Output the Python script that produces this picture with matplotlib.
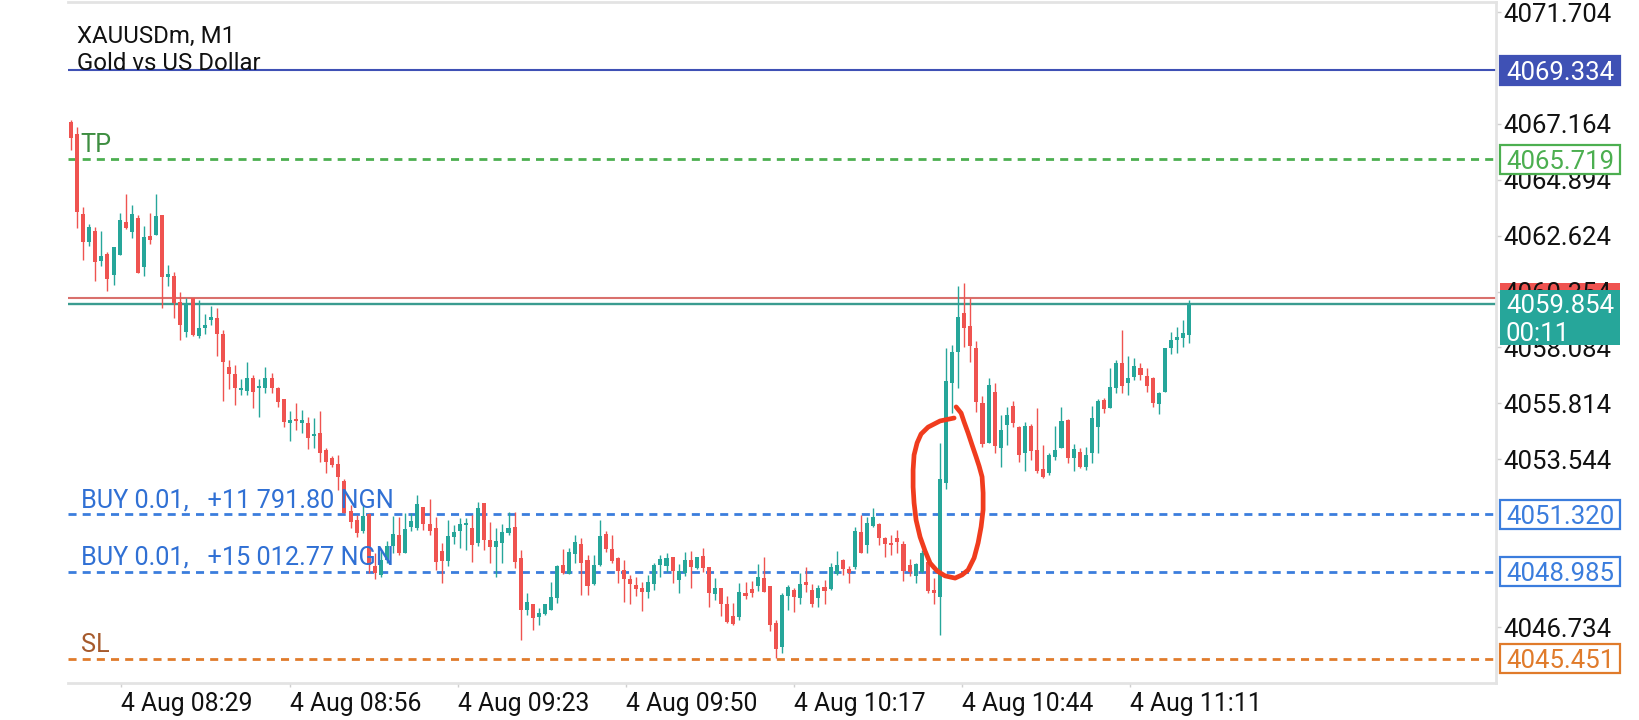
import matplotlib
matplotlib.use("Agg")
import numpy as np
import matplotlib.pyplot as plt
import matplotlib.transforms as mtransforms
from matplotlib.patches import Rectangle

plt.rcParams['font.family'] = ['Roboto', 'DejaVu Sans']

# chart header
symbol = "XAUUSDm, M1"
description = "Gold vs US Dollar"

# M1 candles
opens = [
    4067.24, 4066.75, 4063.50, 4062.36, 4062.81, 4061.59, 4061.88, 4061.02, 4061.84, 4063.18,
    4062.77, 4063.34, 4061.35, 4062.61, 4062.65, 4063.46, 4060.94, 4060.98, 4059.93, 4058.71,
    4060.09, 4058.55, 4058.87, 4059.20, 4059.28, 4058.63, 4057.29, 4057.01, 4056.36, 4056.32,
    4056.84, 4056.44, 4056.44, 4056.84, 4056.44, 4055.99, 4055.02, 4055.14, 4055.02, 4055.02,
    4054.49, 4054.61, 4053.92, 4053.60, 4053.35, 4052.66, 4051.44, 4051.08, 4050.63, 4051.32,
    4049.21, 4048.84, 4049.45, 4050.02, 4050.47, 4049.74, 4050.79, 4050.75, 4051.61, 4050.92,
    4050.75, 4049.82, 4049.41, 4050.39, 4050.63, 4050.87, 4050.75, 4050.15, 4051.77, 4050.27,
    4049.98, 4050.15, 4050.55, 4050.79, 4049.53, 4047.42, 4047.67, 4047.14, 4047.26, 4047.42,
    4047.90, 4049.25, 4048.89, 4049.70, 4050.10, 4049.45, 4048.48, 4049.25, 4050.51, 4049.90,
    4049.53, 4049.05, 4048.68, 4048.44, 4048.32, 4048.15, 4048.48, 4049.25, 4049.21, 4049.57,
    4048.64, 4048.93, 4049.45, 4049.13, 4049.62, 4049.17, 4048.07, 4048.32, 4047.67, 4047.18,
    4047.14, 4048.11, 4048.28, 4048.40, 4048.72, 4048.40, 4046.90, 4045.92, 4047.99, 4048.24,
    4047.90, 4048.56, 4048.24, 4047.90, 4048.36, 4048.28, 4048.89, 4049.45, 4049.09, 4049.17,
    4050.59, 4050.06, 4050.83, 4050.92, 4050.35, 4050.15, 4050.35, 4050.10, 4049.25, 4048.80,
    4048.97, 4049.37, 4048.24, 4047.94, 4052.58, 4056.64, 4057.90, 4059.48, 4058.95, 4058.06,
    4055.83, 4054.20, 4056.27, 4054.00, 4054.94, 4055.71, 4054.85, 4053.80, 4054.89, 4053.92,
    4053.15, 4052.99, 4053.64, 4054.00, 4055.14, 4053.60, 4053.84, 4053.23, 4053.80, 4054.85,
    4055.95, 4055.63, 4056.44, 4057.45, 4056.64, 4056.88, 4057.25, 4056.92, 4056.84, 4055.79,
    4056.27, 4058.06, 4058.39, 4058.47, 4058.59,
]
closes = [
    4066.59, 4063.58, 4062.36, 4062.97, 4061.55, 4061.80, 4060.86, 4062.16, 4063.26, 4062.93,
    4063.50, 4061.11, 4062.57, 4062.45, 4063.42, 4060.94, 4061.07, 4059.89, 4058.99, 4059.85,
    4058.59, 4058.87, 4058.99, 4059.32, 4058.63, 4057.49, 4057.01, 4056.44, 4056.44, 4056.84,
    4056.27, 4056.52, 4056.84, 4056.44, 4055.87, 4055.06, 4055.14, 4055.10, 4055.14, 4054.41,
    4054.53, 4053.80, 4053.43, 4053.31, 4052.82, 4051.36, 4051.00, 4050.55, 4051.24, 4049.25,
    4048.93, 4049.45, 4050.02, 4050.51, 4049.74, 4050.71, 4051.04, 4051.73, 4050.92, 4050.63,
    4049.37, 4049.41, 4050.43, 4050.59, 4050.92, 4050.96, 4050.06, 4051.57, 4050.27, 4049.98,
    4050.23, 4050.59, 4050.75, 4049.37, 4047.42, 4047.75, 4047.10, 4047.30, 4047.67, 4047.94,
    4049.21, 4048.93, 4049.78, 4050.19, 4049.33, 4048.40, 4049.25, 4050.43, 4049.90, 4049.41,
    4049.01, 4048.68, 4048.48, 4048.28, 4048.15, 4048.56, 4049.25, 4049.49, 4049.53, 4049.01,
    4049.01, 4049.45, 4049.17, 4049.57, 4049.13, 4048.11, 4048.32, 4047.67, 4046.94, 4046.86,
    4048.15, 4047.99, 4048.11, 4048.76, 4048.15, 4046.82, 4045.84, 4048.03, 4048.36, 4047.94,
    4048.48, 4048.44, 4047.67, 4048.32, 4048.19, 4049.17, 4049.25, 4049.09, 4048.93, 4050.63,
    4049.74, 4050.96, 4051.20, 4050.35, 4050.10, 4050.06, 4050.19, 4049.01, 4048.97, 4049.29,
    4049.74, 4048.19, 4048.11, 4052.74, 4056.72, 4057.90, 4059.32, 4058.87, 4058.14, 4055.87,
    4054.16, 4056.56, 4054.08, 4054.73, 4055.34, 4055.02, 4053.72, 4054.89, 4053.88, 4053.07,
    4052.82, 4053.72, 4053.92, 4055.10, 4053.60, 4053.96, 4053.23, 4053.72, 4055.22, 4055.91,
    4055.58, 4056.48, 4057.45, 4056.52, 4056.84, 4057.33, 4056.96, 4056.52, 4055.83, 4056.23,
    4058.06, 4058.39, 4058.51, 4058.67, 4059.854,
]
highs = [
    4067.32, 4067.03, 4063.79, 4063.10, 4062.97, 4062.81, 4061.96, 4062.16, 4063.54, 4064.31,
    4063.87, 4063.46, 4063.01, 4063.54, 4064.31, 4063.46, 4061.43, 4061.15, 4060.33, 4060.09,
    4060.09, 4060.01, 4059.44, 4059.77, 4059.69, 4058.79, 4057.57, 4057.37, 4056.80, 4057.49,
    4056.96, 4056.80, 4057.29, 4057.05, 4056.48, 4055.99, 4055.50, 4055.83, 4055.54, 4055.26,
    4055.22, 4055.50, 4054.00, 4053.68, 4053.72, 4052.74, 4051.69, 4051.28, 4051.69, 4051.36,
    4049.74, 4049.86, 4050.23, 4051.24, 4051.20, 4051.36, 4051.36, 4052.09, 4051.61, 4051.93,
    4051.20, 4050.15, 4051.08, 4050.87, 4051.16, 4051.16, 4051.28, 4051.81, 4051.77, 4051.00,
    4050.75, 4050.92, 4051.40, 4051.40, 4049.86, 4048.11, 4047.67, 4047.51, 4047.67, 4048.56,
    4049.25, 4049.90, 4049.94, 4050.47, 4050.35, 4049.66, 4049.66, 4051.08, 4050.63, 4050.47,
    4049.57, 4049.45, 4048.84, 4048.76, 4048.56, 4048.84, 4049.33, 4049.66, 4049.74, 4049.57,
    4049.29, 4049.78, 4049.82, 4049.57, 4049.94, 4049.17, 4048.72, 4048.32, 4047.99, 4047.71,
    4048.52, 4048.56, 4048.60, 4049.29, 4049.57, 4048.40, 4047.02, 4048.11, 4048.44, 4048.32,
    4048.93, 4049.17, 4048.48, 4048.44, 4048.64, 4049.33, 4049.82, 4049.49, 4049.21, 4050.79,
    4051.28, 4051.20, 4051.57, 4050.96, 4050.39, 4050.47, 4050.67, 4050.23, 4049.49, 4049.33,
    4049.86, 4049.45, 4048.72, 4054.20, 4058.06, 4058.18, 4060.58, 4060.70, 4060.09, 4058.35,
    4056.11, 4056.84, 4056.64, 4055.34, 4055.67, 4055.91, 4054.89, 4055.06, 4054.98, 4055.63,
    4054.12, 4053.80, 4054.89, 4055.67, 4055.18, 4054.16, 4054.00, 4054.04, 4055.71, 4055.99,
    4056.03, 4057.25, 4057.57, 4058.79, 4057.74, 4057.65, 4057.45, 4057.25, 4056.88, 4056.27,
    4058.06, 4058.71, 4058.91, 4059.20, 4060.01,
]
lows = [
    4066.10, 4062.93, 4061.63, 4062.20, 4060.78, 4061.39, 4060.38, 4060.62, 4061.84, 4062.89,
    4062.53, 4061.11, 4060.98, 4062.28, 4062.65, 4059.69, 4060.58, 4059.28, 4058.39, 4058.51,
    4058.55, 4058.47, 4058.63, 4058.99, 4057.74, 4055.91, 4056.40, 4055.75, 4056.15, 4056.15,
    4055.63, 4055.26, 4056.23, 4056.23, 4055.67, 4054.85, 4054.28, 4054.73, 4054.61, 4053.96,
    4054.00, 4053.43, 4052.99, 4053.23, 4052.30, 4051.36, 4050.75, 4050.39, 4050.55, 4048.93,
    4048.68, 4048.76, 4049.33, 4049.74, 4049.66, 4049.74, 4050.63, 4050.67, 4050.67, 4050.47,
    4049.05, 4048.51, 4049.21, 4050.10, 4049.94, 4049.86, 4049.37, 4050.02, 4049.86, 4049.33,
    4048.76, 4049.33, 4050.47, 4049.13, 4046.21, 4047.22, 4046.61, 4046.80, 4047.22, 4047.42,
    4047.71, 4048.89, 4048.89, 4049.33, 4048.03, 4048.03, 4048.44, 4049.21, 4049.78, 4049.33,
    4048.51, 4047.75, 4047.67, 4047.99, 4047.38, 4047.90, 4048.24, 4048.76, 4048.97, 4048.51,
    4048.11, 4048.80, 4048.32, 4049.09, 4048.97, 4047.55, 4047.83, 4047.18, 4046.90, 4046.82,
    4047.02, 4047.87, 4047.94, 4048.19, 4048.15, 4046.58, 4045.48, 4045.68, 4047.42, 4047.34,
    4047.67, 4048.15, 4047.55, 4047.55, 4047.67, 4048.24, 4048.84, 4048.84, 4048.51, 4049.09,
    4049.74, 4049.74, 4050.79, 4050.06, 4049.57, 4049.66, 4049.74, 4048.60, 4048.80, 4048.52,
    4048.93, 4048.11, 4047.67, 4046.41, 4052.34, 4055.42, 4056.44, 4058.10, 4057.49, 4055.46,
    4054.04, 4054.20, 4053.80, 4053.23, 4054.12, 4054.85, 4053.43, 4053.07, 4053.52, 4052.99,
    4052.78, 4052.91, 4053.52, 4054.00, 4053.39, 4053.07, 4053.19, 4053.11, 4053.39, 4053.80,
    4055.42, 4055.63, 4056.23, 4056.23, 4056.15, 4056.76, 4056.76, 4056.27, 4055.67, 4055.38,
    4056.27, 4057.82, 4057.86, 4058.10, 4058.26,
]

# time axis (bar positions of the labels)
time_ticks = [8.2, 36.0, 63.7, 91.3, 119.0, 146.6, 174.3]
time_labels = ["4 Aug 08:29", "4 Aug 08:56", "4 Aug 09:23", "4 Aug 09:50",
               "4 Aug 10:17", "4 Aug 10:44", "4 Aug 11:11"]

# price scale
price_ticks = [4071.704, 4067.164, 4064.894, 4062.624, 4060.354, 4058.084,
               4055.814, 4053.544, 4046.734]

# levels
day_high = 4069.334
tp_price = 4065.719
ask_price = 4060.092
bid_price = 4059.854
buy_prices = [4051.320, 4048.985]
buy_texts = ["BUY 0.01,   +11 791.80 NGN", "BUY 0.01,   +15 012.77 NGN"]
sl_price = 4045.451
bar_timer = "00:11"

# hand drawn red circle (bar index, price)
circle_x = [145.33, 143.02, 141.05, 139.89, 139.24, 138.74, 138.58, 138.58, 138.74, 139.07,
            139.73, 140.55, 141.38, 142.53, 143.84, 145.49, 146.64, 147.63, 148.62, 149.28,
            149.77, 150.10, 150.10, 149.93, 149.44, 148.95, 148.29, 147.63, 146.97, 146.48,
            145.66]
circle_y = [4055.22, 4055.10, 4054.85, 4054.57, 4054.21, 4053.72, 4053.11, 4052.42, 4051.77,
            4051.08, 4050.39, 4049.82, 4049.33, 4049.01, 4048.81, 4048.72, 4048.85, 4049.05,
            4049.54, 4050.15, 4050.80, 4051.49, 4052.18, 4052.83, 4053.27, 4053.64, 4054.12,
            4054.61, 4055.06, 4055.42, 4055.67]

bull = "#26A69A"
bear = "#EF5350"

fig = plt.figure(figsize=(16.4, 7.2), dpi=100)
ax = fig.add_axes([0.04146, 0.05139, 0.87073, 0.94583])

o = np.array(opens)
c = np.array(closes)
h = np.array(highs)
l = np.array(lows)
x = np.arange(len(o))
cols = np.where(c >= o, bull, bear)

ax.vlines(x, l, h, colors=cols, lw=1.0, zorder=3)
ax.bar(x, np.maximum(np.abs(c - o), 0.07), width=0.66, bottom=np.minimum(o, c),
       color=cols, linewidth=0, zorder=3)

dash = (0, (2.9, 2.2))
ax.axhline(day_high, color="#3F51B5", lw=1.5, zorder=2)
ax.axhline(tp_price, color="#4CAF50", lw=2.0, ls=dash, zorder=2)
ax.axhline(ask_price, color="#D9706C", lw=1.5, zorder=2)
ax.axhline(bid_price, color="#3A9C90", lw=1.7, zorder=2)
for p in buy_prices:
    ax.axhline(p, color="#3B7DDD", lw=2.0, ls=dash, zorder=2)
ax.axhline(sl_price, color="#E07B2B", lw=2.0, ls=dash, zorder=2)

ax.set_xlim(-0.49, 234.5)
ax.set_ylim(4044.461, 4072.110)

blend = mtransforms.blended_transform_factory(ax.transAxes, ax.transData)

# level captions
def caption(value, text, color):
    ax.annotate(text, xy=(0.0088, value), xycoords=blend, xytext=(0, 5),
                textcoords="offset points", ha="left", va="baseline",
                color=color, fontsize=18.2, zorder=4)

caption(tp_price, "TP", "#3E8E41")
for p, t in zip(buy_prices, buy_texts):
    caption(p, t, "#3070D4")
caption(sl_price, "SL", "#A65A2C")

# price boxes on the right scale
bh = 1.18
bx, bw, tx = 1.0028, 0.0840, 1.0070
label_size = 18.5

def price_box(value, text, face, edge, tcolor, z=6):
    ax.add_patch(Rectangle((bx, value - bh / 2), bw, bh, transform=blend,
                           facecolor=face, edgecolor=edge, lw=1.6,
                           clip_on=False, zorder=z))
    ax.text(tx, value, text, transform=blend, ha="left", va="center_baseline",
            color=tcolor, fontsize=label_size, clip_on=False, zorder=z + 1)

price_box(day_high, f"{day_high:.3f}", "#3F51B5", "#3F51B5", "white")
price_box(tp_price, f"{tp_price:.3f}", "white", "#4CAF50", "#4CAF50")
for p in buy_prices:
    price_box(p, f"{p:.3f}", "white", "#3B7DDD", "#3B7DDD")
price_box(sl_price, f"{sl_price:.3f}", "white", "#E07B2B", "#E07B2B")

# ask box mostly hidden under the bid box
ax.add_patch(Rectangle((bx, ask_price - bh / 2), bw, bh, transform=blend,
                       facecolor=bear, edgecolor=bear, lw=0, clip_on=False, zorder=1))
ax.add_patch(Rectangle((bx, bid_price - 1.67), bw, 2.24, transform=blend,
                       facecolor=bull, edgecolor=bull, lw=0, clip_on=False, zorder=6))
ax.text(tx, bid_price, f"{bid_price:.3f}", transform=blend, ha="left",
        va="center_baseline", color="white", fontsize=label_size, clip_on=False, zorder=7)
ax.text(tx, bid_price - 1.13, bar_timer, transform=blend, ha="left",
        va="center_baseline", color="white", fontsize=label_size, clip_on=False, zorder=7)

ax.plot(circle_x, circle_y, color="#F03C1E", lw=3.4, solid_capstyle="round",
        solid_joinstyle="round", zorder=10)

# axes styling
ax.spines["left"].set_visible(False)
for s in ["top", "right", "bottom"]:
    ax.spines[s].set_color("#E3E3E3")
    ax.spines[s].set_linewidth(2.0)

ax.yaxis.tick_right()
ax.set_yticks(price_ticks)
ax.set_yticklabels([f"{v:.3f}" for v in price_ticks])
ax.tick_params(axis="y", length=3.6, width=1, color="#CFCFCF", pad=1.5,
               labelsize=label_size, labelcolor="#111111")

ax.set_xticks(time_ticks)
ax.set_xticklabels(time_labels, ha="left")
ax.tick_params(axis="x", length=3, width=1, color="#CFCFCF", pad=3.2,
               labelsize=17.8, labelcolor="#111111")

fig.text(77 / 1640, 1 - 43 / 720, symbol, fontsize=17.3, color="#111111", va="baseline")
fig.text(77 / 1640, 1 - 70 / 720, description, fontsize=17.3, color="#111111", va="baseline")

fig.savefig("out.png", dpi=100, facecolor="white")
